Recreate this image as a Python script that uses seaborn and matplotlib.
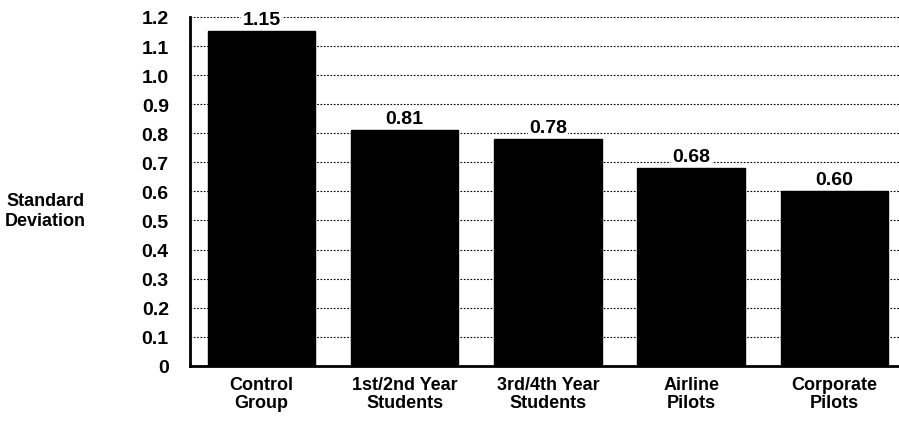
import matplotlib
matplotlib.use("Agg")
import matplotlib.pyplot as plt
import seaborn as sns
import pandas as pd

# data
groups = ["Control\nGroup", "1st/2nd Year\nStudents", "3rd/4th Year\nStudents",
          "Airline\nPilots", "Corporate\nPilots"]
std_dev = [1.15, 0.81, 0.78, 0.68, 0.60]
value_labels = ["1.15", "0.81", "0.78", "0.68", "0.60"]
y_ticks = [0, 0.1, 0.2, 0.3, 0.4, 0.5, 0.6, 0.7, 0.8, 0.9, 1.0, 1.1, 1.2]
y_ticklabels = ["0", "0.1", "0.2", "0.3", "0.4", "0.5", "0.6", "0.7", "0.8",
                "0.9", "1.0", "1.1", "1.2"]

df = pd.DataFrame({"group": groups, "sd": std_dev})

sns.set_style("white")
plt.rcParams["font.family"] = ["Liberation Sans", "DejaVu Sans"]
plt.rcParams["text.color"] = "black"

fig = plt.figure(figsize=(8.99, 4.27), dpi=100)
ax = fig.add_axes([0.211, 0.141, 0.789, 0.817])

sns.barplot(data=df, x="group", y="sd", color="black", edgecolor="black",
            width=0.75, saturation=1, ax=ax, zorder=3)

# dotted grid
for yv in y_ticks[1:]:
    ax.axhline(yv, color="black", linestyle=(0, (1.5, 1.5)), linewidth=0.8, zorder=1)

# value labels above the bars
for i, (v, lab) in enumerate(zip(std_dev, value_labels)):
    ax.text(i, v + 0.012, lab, ha="center", va="bottom", fontsize=14,
            fontweight="bold", zorder=4,
            bbox=dict(facecolor="white", edgecolor="none", pad=1))

ax.set_ylim(0, 1.2)
ax.set_xlim(-0.5, 4.45)
ax.set_yticks(y_ticks)
ax.set_yticklabels(y_ticklabels, fontsize=14, fontweight="bold", color="black")

# category ticks between bars, labels under bars
ax.set_xticks([-0.5, 0.5, 1.5, 2.5, 3.5])
ax.set_xticklabels([])
ax.tick_params(axis="x", direction="out", length=8, width=2, color="black")
ax.tick_params(axis="y", direction="out", length=12, width=1.5, color="black", pad=3)
for i, g in enumerate(groups):
    ax.text(i, -0.035, g, ha="center", va="top", fontsize=13, fontweight="bold",
            linespacing=1.05)

ax.set_xlabel("")
ax.set_ylabel("Standard\nDeviation", rotation=0, fontsize=13, fontweight="bold",
              ha="center", va="center", labelpad=0, color="black")
ax.yaxis.set_label_coords(-0.203, 0.445)

sns.despine(ax=ax, top=True, right=True)
ax.spines["left"].set_linewidth(2)
ax.spines["bottom"].set_linewidth(2)
ax.spines["left"].set_color("black")
ax.spines["bottom"].set_color("black")

fig.savefig("out.png", dpi=100)
